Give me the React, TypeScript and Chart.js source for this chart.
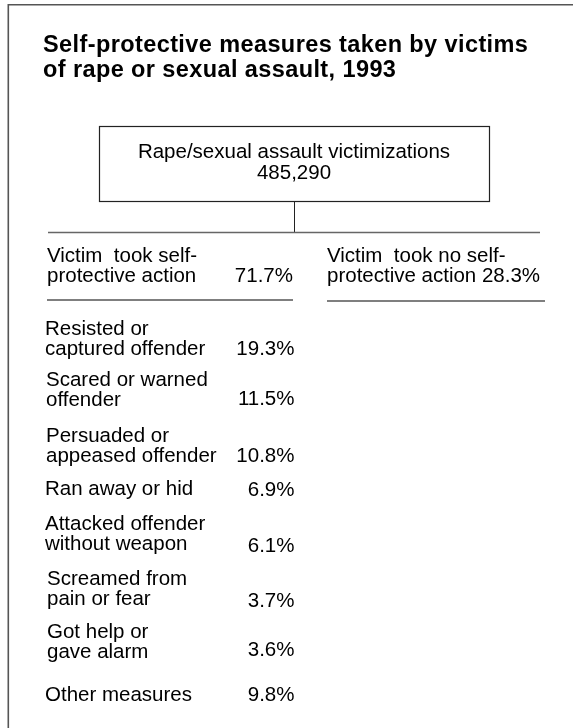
import React, { useEffect, useRef } from "react";
import { Chart, registerables } from "chart.js";

Chart.register(...registerables);

// ---------- data ----------
const TITLE_LINES = [
  "Self-protective measures taken by victims",
  "of rape or sexual assault, 1993",
];
const ROOT_LABEL = "Rape/sexual assault victimizations";
const ROOT_TOTAL = 485290;
const BRANCH_LABELS = [
  ["Victim  took self-", "protective action"],
  ["Victim  took no self-", "protective action"],
];
const BRANCH_SHARES = [71.7, 28.3];
const MEASURE_LABELS = [
  ["Resisted or", "captured offender"],
  ["Scared or warned", "offender"],
  ["Persuaded or", "appeased offender"],
  ["Ran away or hid"],
  ["Attacked offender", "without weapon"],
  ["Screamed from", "pain or fear"],
  ["Got help or", "gave alarm"],
  ["Other measures"],
];
const MEASURE_SHARES = [19.3, 11.5, 10.8, 6.9, 6.1, 3.7, 3.6, 9.8];

// ---------- layout (positions only) ----------
const W = 573;
const H = 728;
const ROW_LAYOUT = [
  { x: 45, y: 335, py: 355 },
  { x: 46, y: 386, py: 405 },
  { x: 46, y: 442, py: 462 },
  { x: 45, y: 495, py: 496 },
  { x: 45, y: 530, py: 552 },
  { x: 47, y: 585, py: 607 },
  { x: 47, y: 638, py: 656 },
  { x: 45, y: 701, py: 701 },
];

const FONT = '20.5px "Liberation Sans", Arial, sans-serif';
const TITLE_FONT = 'bold 23.5px "Liberation Sans", Arial, sans-serif';

const pct = (v: number) => v.toFixed(1) + "%";

const diagramPlugin = {
  id: "diagram",
  afterDraw(chart: any) {
    const ctx: CanvasRenderingContext2D = chart.ctx;
    const sx = chart.scales.x;
    const sy = chart.scales.y;
    const X = (v: number) => sx.getPixelForValue(v);
    const Y = (v: number) => sy.getPixelForValue(v);

    const line = (x1: number, y1: number, x2: number, y2: number, color: string, w: number) => {
      ctx.save();
      ctx.strokeStyle = color;
      ctx.lineWidth = w;
      ctx.beginPath();
      ctx.moveTo(X(x1), Y(y1));
      ctx.lineTo(X(x2), Y(y2));
      ctx.stroke();
      ctx.restore();
    };
    const text = (s: string, x: number, y: number, align: CanvasTextAlign, font = FONT) => {
      ctx.save();
      ctx.font = font;
      ctx.fillStyle = "#000";
      ctx.textAlign = align;
      ctx.textBaseline = "alphabetic";
      ctx.fillText(s, X(x), Y(y));
      ctx.restore();
    };

    // outer frame (top + left)
    line(8, 4.8, W, 4.8, "#555", 1.6);
    line(8.3, 4, 8.3, H, "#555", 1.6);

    // title
    ctx.save();
    (ctx as any).letterSpacing = "0.4px";
    TITLE_LINES.forEach((t, i) => text(t, 43, 52 + i * 25, "left", TITLE_FONT));
    ctx.restore();

    // root box
    ctx.save();
    ctx.strokeStyle = "#222";
    ctx.lineWidth = 1.2;
    ctx.strokeRect(X(99.5), Y(126.5), X(489.5) - X(99.5), Y(201.5) - Y(126.5));
    ctx.restore();
    text(ROOT_LABEL, 294, 158, "center");
    text(ROOT_TOTAL.toLocaleString("en-US"), 294, 179, "center");

    // connectors
    line(294.5, 201.5, 294.5, 232.5, "#222", 1);
    line(48, 232.5, 540, 232.5, "#666", 1.5);

    // branches
    text(BRANCH_LABELS[0][0], 47, 262, "left");
    text(BRANCH_LABELS[0][1], 47, 282, "left");
    text(pct(BRANCH_SHARES[0]), 293, 282, "right");
    line(47, 300, 293, 300, "#555", 1.5);

    text(BRANCH_LABELS[1][0], 327, 262, "left");
    text(BRANCH_LABELS[1][1] + " " + pct(BRANCH_SHARES[1]), 327, 282, "left");
    line(327, 301, 545, 301, "#555", 1.5);

    // measures
    MEASURE_LABELS.forEach((lbl, i) => {
      const r = ROW_LAYOUT[i];
      lbl.forEach((l, j) => text(l, r.x, r.y + j * 20, "left"));
      text(pct(MEASURE_SHARES[i]), 294.5, r.py, "right");
    });
  },
};

export default function App() {
  const ref = useRef<HTMLCanvasElement | null>(null);
  useEffect(() => {
    document.body.style.margin = "0";
    document.body.style.background = "#fff";
    if (!ref.current) return;
    const chart = new Chart(ref.current, {
      type: "scatter",
      data: { datasets: [{ data: [], pointRadius: 0 }] },
      options: {
        animation: false,
        responsive: false,
        maintainAspectRatio: false,
        layout: { padding: 0 },
        plugins: { legend: { display: false }, tooltip: { enabled: false }, title: { display: false } },
        scales: {
          x: { type: "linear", min: 0, max: W, display: false },
          y: { type: "linear", min: 0, max: H, reverse: true, display: false },
        },
      },
      plugins: [diagramPlugin],
    });
    return () => chart.destroy();
  }, []);
  return (
    <div style={{ width: W, height: H, background: "#fff" }}>
      <canvas ref={ref} width={W} height={H} style={{ display: "block", width: W, height: H }} />
    </div>
  );
}
